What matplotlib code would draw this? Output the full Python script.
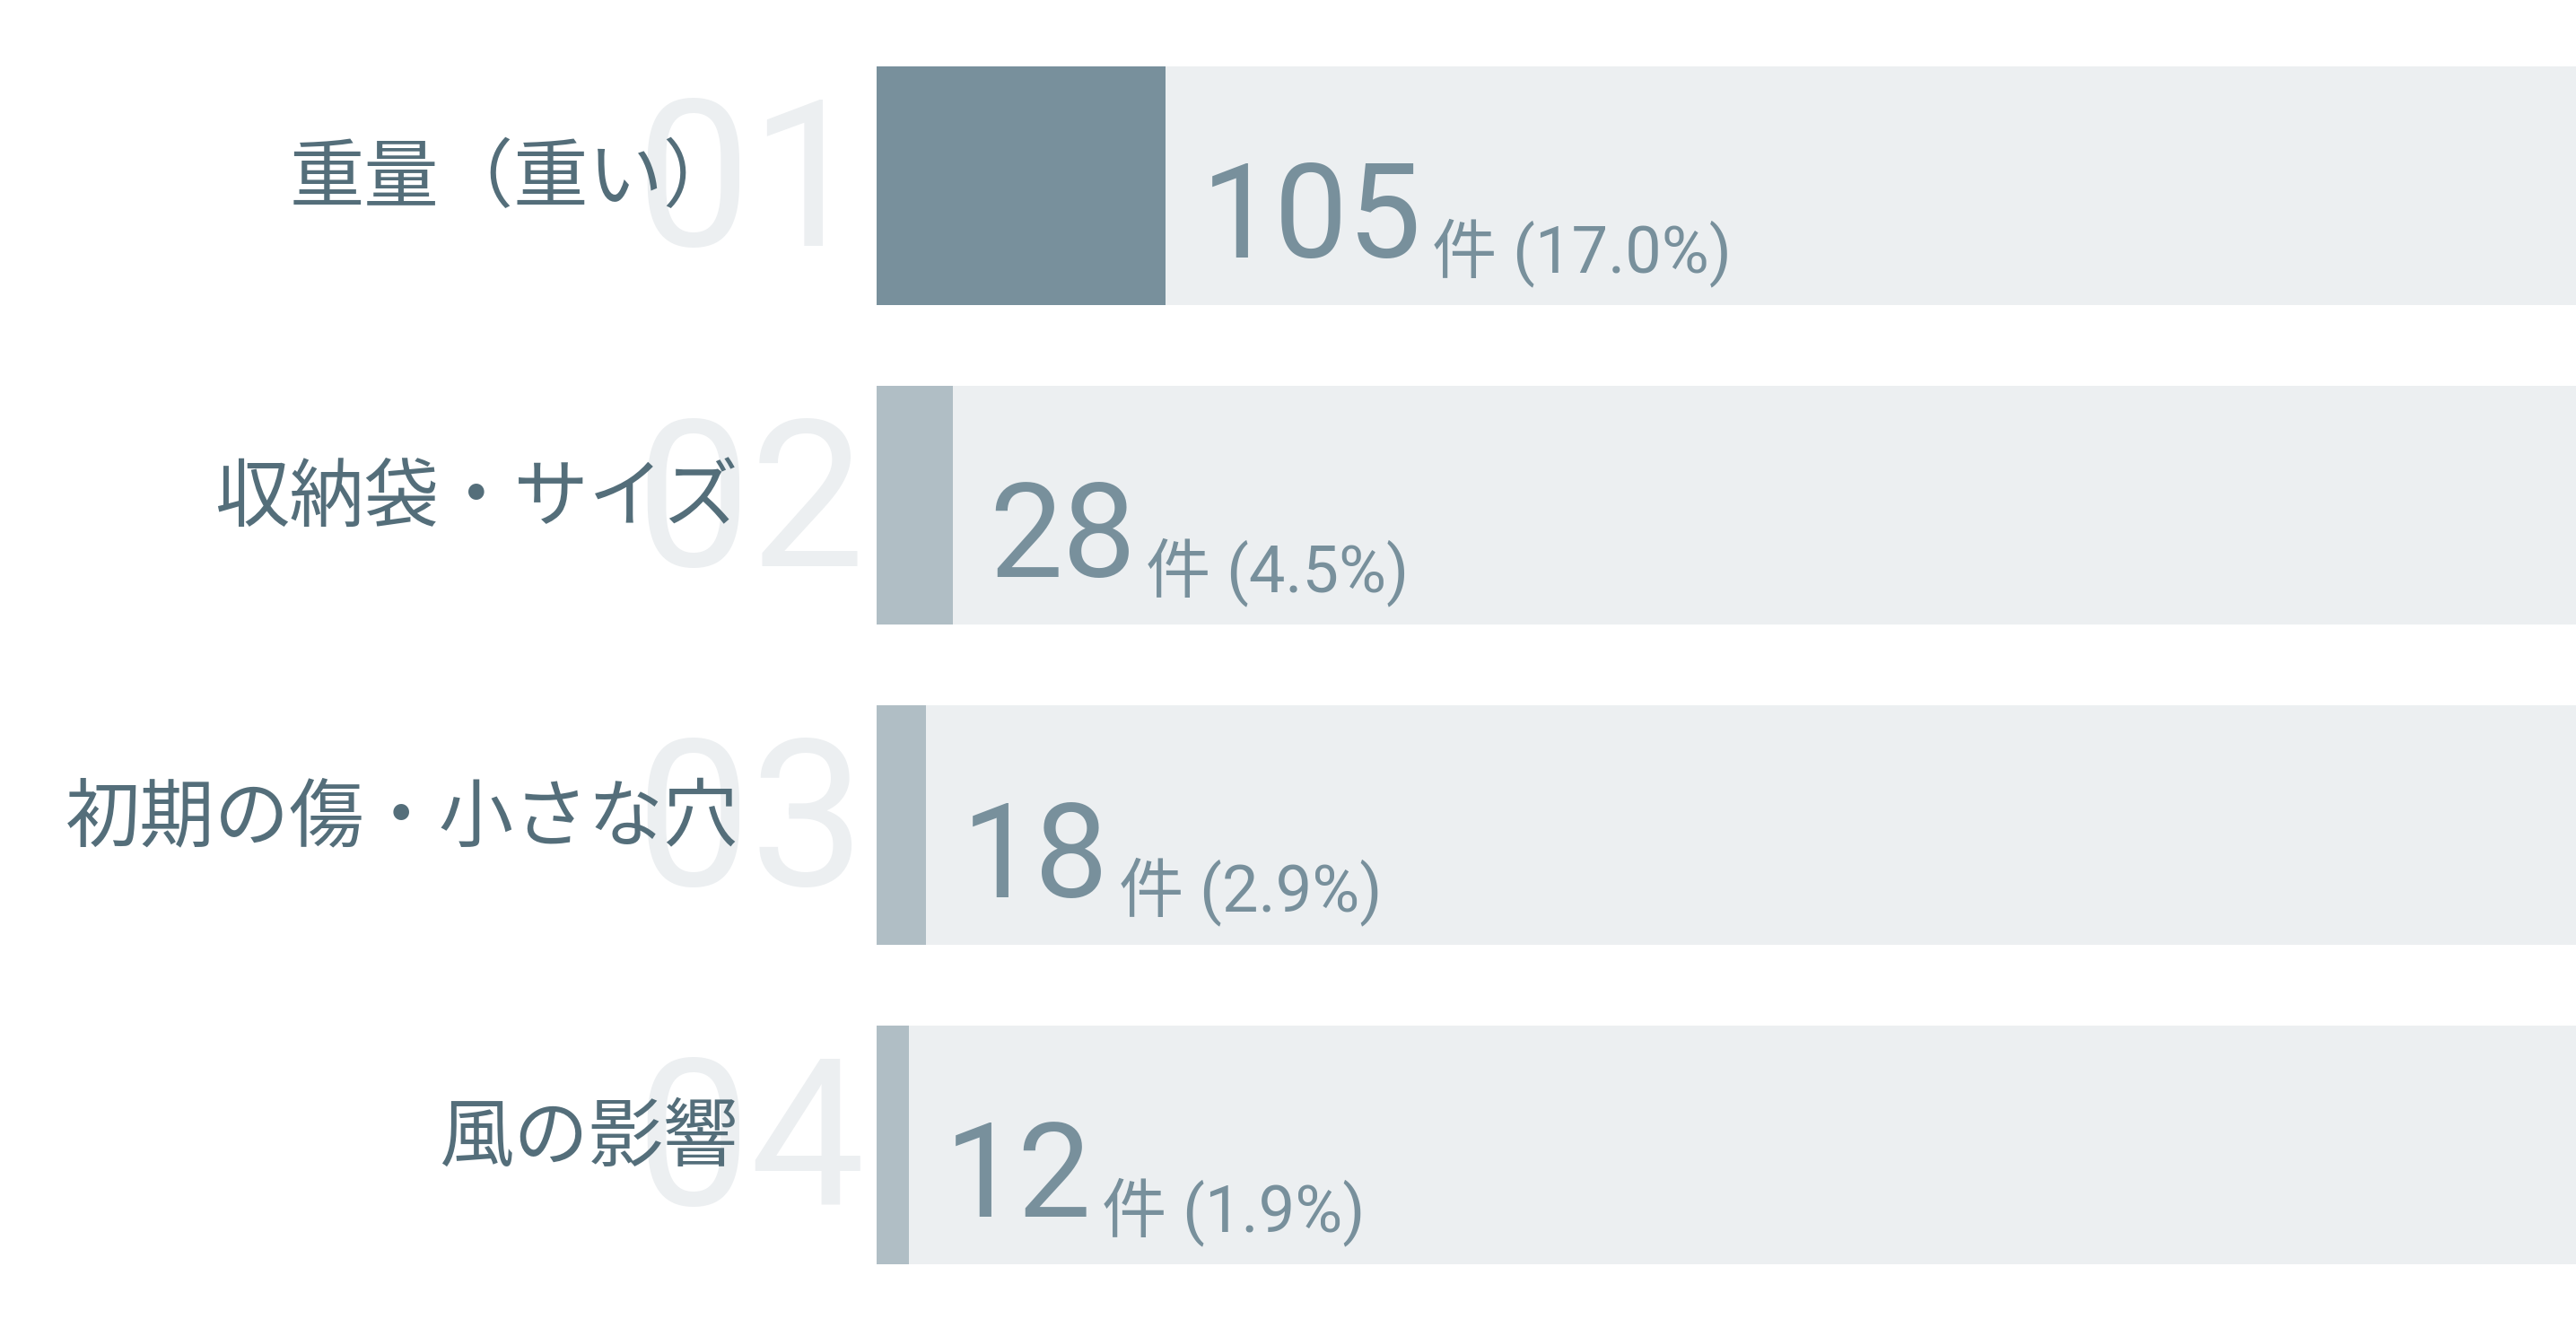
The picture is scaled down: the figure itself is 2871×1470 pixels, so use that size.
import matplotlib.pyplot as plt

# data
labels = ["重量（重い）", "収納袋・サイズ", "初期の傷・小さな穴", "風の影響"]
ranks = ["01", "02", "03", "04"]
counts = [105, 28, 18, 12]
percents = [17.0, 4.5, 2.9, 1.9]

# material blue-grey palette
TRACK = "#eceff1"
TOP_BAR = "#78909c"
OTHER_BAR = "#b0bec5"
LABEL_COLOR = "#546e7a"
NUM_COLOR = "#78909c"
GHOST = "#eceff1"

W, H = 2871, 1470
fig = plt.figure(figsize=(W / 100, H / 100), dpi=100)
fig.patch.set_facecolor("white")

left_px = 977
ax = fig.add_axes([left_px / W, 0, (W - left_px) / W, 1])
ax.set_xlim(0, 100)
ax.set_ylim(3.545, -0.58)
ax.axis("off")

ypos = list(range(len(labels)))
bar_h = 0.747
ax.barh(ypos, [100] * len(ypos), height=bar_h, color=TRACK, zorder=1)
colors = [TOP_BAR] + [OTHER_BAR] * (len(ypos) - 1)
ax.barh(ypos, percents, height=bar_h, color=colors, zorder=2)

num_font = ["Roboto", "DejaVu Sans"]
small_font = ["Roboto", "Noto Sans CJK JP"]
yax = ax.get_yaxis_transform()
ax_w = W - left_px

for y, lab, rank, c, p in zip(ypos, labels, ranks, counts, percents):
    # big faint rank number behind the label
    ax.text((708 - left_px) / ax_w, y + 0.19, rank, transform=yax,
            fontsize=164, family=num_font, color=GHOST,
            ha="left", va="baseline", clip_on=False, zorder=0)
    # category label
    ax.text((823 - left_px) / ax_w, y - 0.02, lab, transform=yax,
            fontsize=60, family=["Noto Sans CJK JP", "DejaVu Sans"],
            color=LABEL_COLOR, ha="right", va="center", clip_on=False, zorder=3)
    # value at the end of the bar
    big = ax.text(p + 40 / ax_w * 100, y + 0.225, str(c), fontsize=105,
                  family=num_font, color=NUM_COLOR,
                  ha="left", va="baseline", zorder=4)
    ax.annotate(f"件 ({p:.1f}%)", xy=(1, y + 0.27), xycoords=(big, "data"),
                xytext=(8, 0), textcoords="offset points",
                fontsize=52, family=small_font,
                color=NUM_COLOR, ha="left", va="baseline", zorder=4)

fig.savefig("out.png", dpi=100, facecolor="white")
